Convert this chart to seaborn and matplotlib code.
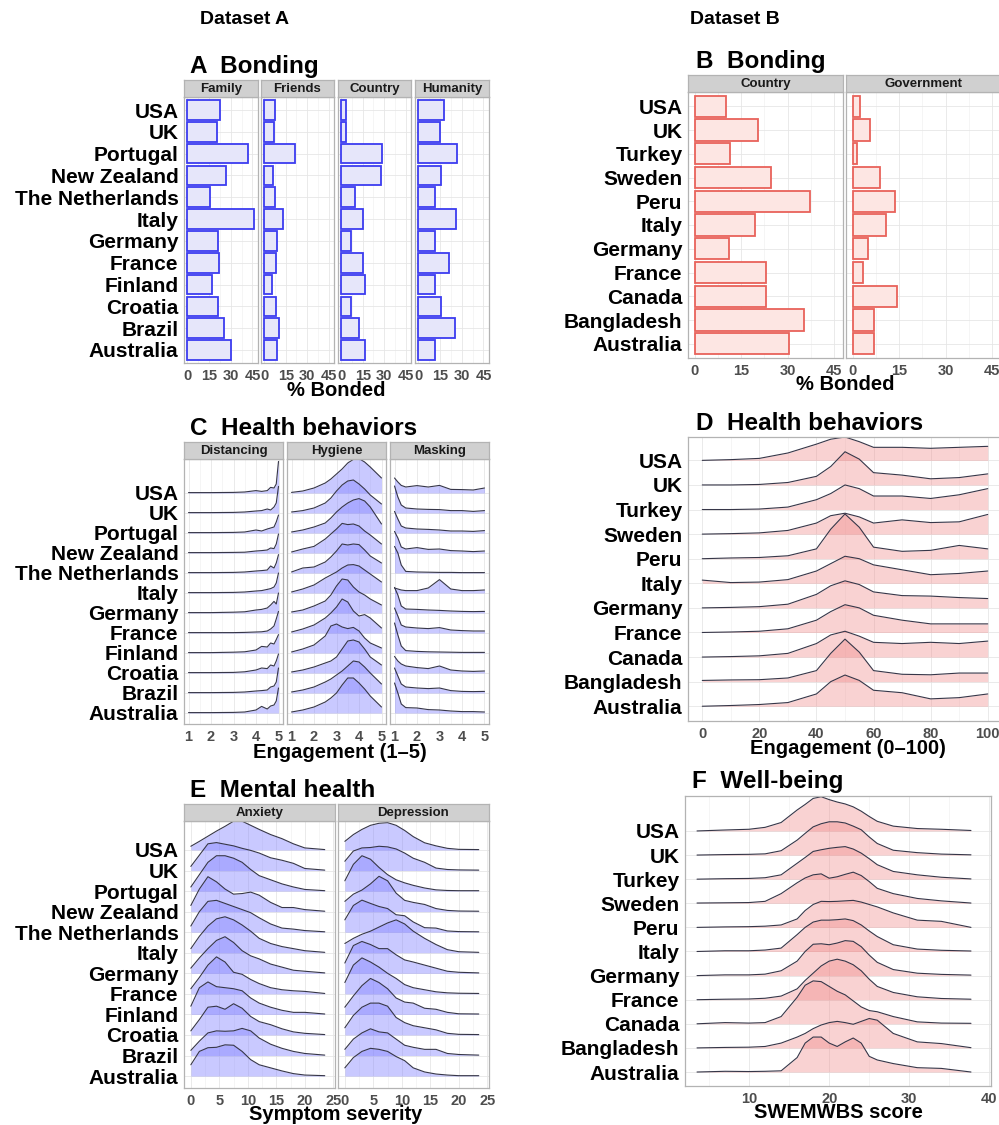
import numpy as np
import pandas as pd
import matplotlib
matplotlib.use('Agg')
import matplotlib.pyplot as plt
import seaborn as sns

W, H = 999, 1125

# ---- categories ----
countries_a = ['USA', 'UK', 'Portugal', 'New Zealand', 'The Netherlands', 'Italy',
               'Germany', 'France', 'Finland', 'Croatia', 'Brazil', 'Australia']
countries_b = ['USA', 'UK', 'Turkey', 'Sweden', 'Peru', 'Italy', 'Germany',
               'France', 'Canada', 'Bangladesh', 'Australia']

# ---- panel A: % bonded (dataset A) ----
bond_a_family = [22.5, 20.7, 42, 27, 15.6, 46, 21.4, 22, 17, 21, 25.5, 30]
bond_a_friends = [7.4, 6.9, 21.4, 6.2, 7.6, 13.3, 9, 8.3, 5.5, 8.3, 10.6, 9]
bond_a_country = [3.2, 3.4, 28.5, 27.8, 9.9, 15, 7.1, 15.2, 16.6, 6.9, 12.6, 16.6]
bond_a_humanity = [17.9, 15.2, 26.7, 15.9, 11.7, 25.7, 11.5, 21.4, 11.5, 15.4, 25, 11.5]

# ---- panel B: % bonded (dataset B) ----
bond_b_country = [10.1, 20.3, 11.3, 24.6, 37.1, 19.6, 10.9, 23, 22.9, 35.2, 30.4]
bond_b_government = [2.3, 5.4, 1.2, 8.7, 13.5, 10.8, 5, 3.2, 14.2, 6.9, 6.8]

# ---- panel C: ridge heights (row units), rows USA -> Australia ----
dist_x = [1, 2, 3, 3.5, 4, 4.25, 4.5, 4.65, 4.8, 4.9, 5.0]
distancing = [
    [0.02, 0.02, 0.03, 0.05, 0.12, 0.08, 0.12, 0.28, 0.25, 0.45, 1.58],
    [0.02, 0.02, 0.03, 0.05, 0.10, 0.12, 0.20, 0.15, 0.30, 0.50, 1.33],
    [0.02, 0.02, 0.03, 0.05, 0.15, 0.10, 0.20, 0.25, 0.30, 0.55, 0.90],
    [0.02, 0.02, 0.03, 0.04, 0.10, 0.12, 0.15, 0.25, 0.22, 0.45, 0.95],
    [0.02, 0.02, 0.03, 0.05, 0.10, 0.12, 0.15, 0.35, 0.25, 0.50, 0.92],
    [0.02, 0.02, 0.03, 0.05, 0.10, 0.12, 0.18, 0.22, 0.30, 0.50, 1.00],
    [0.02, 0.02, 0.04, 0.06, 0.15, 0.18, 0.25, 0.40, 0.58, 0.45, 1.00],
    [0.02, 0.02, 0.02, 0.03, 0.05, 0.06, 0.10, 0.20, 0.35, 0.70, 1.08],
    [0.02, 0.02, 0.04, 0.06, 0.15, 0.33, 0.30, 0.50, 0.45, 0.67, 0.92],
    [0.02, 0.02, 0.03, 0.06, 0.15, 0.25, 0.22, 0.40, 0.35, 0.60, 0.95],
    [0.02, 0.02, 0.03, 0.05, 0.10, 0.12, 0.15, 0.30, 0.35, 0.55, 1.25],
    [0.02, 0.02, 0.03, 0.05, 0.15, 0.33, 0.20, 0.35, 0.40, 0.60, 1.25],
]
hyg_x = [1, 1.5, 2, 2.5, 2.75, 3, 3.25, 3.5, 3.75, 4, 4.25, 4.5, 5]
hygiene = [
    [0.03, 0.10, 0.25, 0.50, 0.70, 0.95, 1.20, 1.50, 1.68, 1.72, 1.55, 1.30, 0.75],
    [0.05, 0.12, 0.25, 0.50, 0.75, 1.10, 1.40, 1.60, 1.65, 1.45, 1.20, 0.90, 0.45],
    [0.05, 0.15, 0.30, 0.50, 0.75, 1.05, 1.30, 1.50, 1.65, 1.72, 1.60, 1.30, 0.45],
    [0.05, 0.20, 0.33, 0.70, 0.95, 1.20, 1.48, 1.42, 1.45, 1.35, 1.10, 0.90, 0.45],
    [0.05, 0.25, 0.30, 0.55, 0.80, 1.10, 1.45, 1.40, 1.45, 1.42, 1.15, 0.85, 0.50],
    [0.05, 0.20, 0.40, 0.75, 0.90, 1.05, 1.25, 1.40, 1.42, 1.35, 1.15, 0.95, 0.55],
    [0.05, 0.15, 0.35, 0.60, 0.90, 1.35, 1.70, 1.65, 1.30, 1.05, 0.90, 0.70, 0.40],
    [0.05, 0.20, 0.40, 0.75, 1.00, 1.30, 1.70, 1.55, 1.10, 0.85, 0.92, 0.75, 0.25],
    [0.05, 0.20, 0.40, 0.85, 1.35, 1.45, 1.30, 1.22, 1.28, 1.10, 0.75, 0.50, 0.25],
    [0.05, 0.15, 0.30, 0.50, 0.60, 0.80, 1.20, 1.60, 1.65, 1.55, 1.20, 0.80, 0.40],
    [0.05, 0.15, 0.30, 0.55, 0.70, 0.90, 1.10, 1.35, 1.60, 1.55, 1.30, 1.00, 0.45],
    [0.05, 0.15, 0.30, 0.55, 0.75, 1.00, 1.40, 1.75, 1.75, 1.50, 1.20, 0.85, 0.30],
]
mask_x = [1, 1.15, 1.3, 1.5, 2, 2.5, 3, 3.5, 4, 4.5, 5]
masking = [
    [0.75, 0.55, 0.38, 0.30, 0.37, 0.30, 0.38, 0.18, 0.17, 0.15, 0.25],
    [1.35, 0.80, 0.40, 0.25, 0.20, 0.18, 0.17, 0.12, 0.12, 0.08, 0.12],
    [1.08, 0.70, 0.35, 0.25, 0.20, 0.18, 0.15, 0.10, 0.10, 0.08, 0.12],
    [1.08, 0.75, 0.30, 0.20, 0.27, 0.18, 0.20, 0.12, 0.10, 0.07, 0.10],
    [1.33, 1.00, 0.40, 0.08, 0.05, 0.04, 0.03, 0.03, 0.02, 0.02, 0.02],
    [0.25, 0.20, 0.15, 0.12, 0.12, 0.25, 0.67, 0.20, 0.12, 0.12, 0.15],
    [1.28, 0.90, 0.35, 0.20, 0.18, 0.15, 0.13, 0.10, 0.08, 0.07, 0.08],
    [1.25, 0.85, 0.40, 0.30, 0.25, 0.22, 0.27, 0.15, 0.12, 0.10, 0.10],
    [1.50, 0.90, 0.35, 0.12, 0.08, 0.06, 0.05, 0.04, 0.03, 0.03, 0.03],
    [0.83, 0.60, 0.45, 0.35, 0.27, 0.22, 0.35, 0.15, 0.10, 0.08, 0.10],
    [1.25, 0.85, 0.45, 0.30, 0.25, 0.22, 0.25, 0.12, 0.08, 0.07, 0.08],
    [1.50, 1.00, 0.45, 0.27, 0.25, 0.17, 0.15, 0.10, 0.07, 0.07, 0.05],
]

# ---- panel D: engagement 0-100, rows USA -> Australia ----
eng_x = [0, 10, 20, 30, 40, 45, 50, 55, 60, 70, 80, 90, 100]
engagement_b = [
    [0.00, 0.03, 0.08, 0.30, 0.66, 0.86, 0.95, 0.76, 0.53, 0.53, 0.49, 0.53, 0.57],
    [0.00, 0.00, 0.02, 0.10, 0.35, 0.75, 1.35, 1.05, 0.50, 0.40, 0.25, 0.30, 0.45],
    [0.00, 0.00, 0.02, 0.10, 0.40, 0.65, 1.00, 0.85, 0.55, 0.55, 0.45, 0.60, 0.85],
    [0.00, 0.02, 0.05, 0.15, 0.45, 0.75, 0.85, 0.70, 0.45, 0.58, 0.47, 0.50, 0.80],
    [0.00, 0.03, 0.05, 0.12, 0.40, 1.20, 1.82, 1.28, 0.47, 0.30, 0.34, 0.54, 0.40],
    [0.13, 0.03, 0.05, 0.15, 0.50, 0.80, 1.10, 1.00, 0.75, 0.55, 0.35, 0.40, 0.50],
    [0.00, 0.02, 0.05, 0.15, 0.55, 0.90, 1.10, 0.95, 0.65, 0.50, 0.48, 0.42, 0.38],
    [0.00, 0.02, 0.05, 0.15, 0.50, 0.85, 1.13, 1.00, 0.70, 0.50, 0.35, 0.35, 0.35],
    [0.00, 0.02, 0.05, 0.15, 0.55, 0.90, 1.05, 0.85, 0.60, 0.55, 0.60, 0.55, 0.65],
    [0.05, 0.07, 0.08, 0.15, 0.45, 1.15, 1.73, 1.20, 0.45, 0.30, 0.28, 0.35, 0.35],
    [0.00, 0.03, 0.07, 0.15, 0.50, 1.00, 1.27, 1.05, 0.65, 0.55, 0.30, 0.35, 0.50],
]

# ---- panel E: symptom severity, rows USA -> Australia ----
sev_x = [0, 1.5, 3, 4.5, 6, 7.5, 9, 10.5, 12, 14, 16, 18, 20, 23.5]
anxiety = [
    [0.18, 0.42, 0.67, 0.92, 1.15, 1.40, 1.40, 1.20, 1.00, 0.75, 0.55, 0.30, 0.10, 0.02],
    [0.20, 0.75, 1.30, 1.36, 1.28, 1.20, 1.08, 0.98, 0.85, 0.62, 0.50, 0.35, 0.10, 0.02],
    [0.20, 0.80, 1.40, 1.72, 1.72, 1.60, 1.40, 1.05, 0.75, 0.55, 0.35, 0.20, 0.08, 0.02],
    [0.30, 1.10, 1.70, 1.45, 1.10, 0.85, 0.88, 0.95, 0.80, 0.45, 0.20, 0.20, 0.10, 0.02],
    [0.30, 1.00, 1.50, 1.55, 1.40, 1.25, 1.10, 0.95, 0.70, 0.40, 0.20, 0.15, 0.08, 0.02],
    [0.20, 0.80, 1.30, 1.65, 1.75, 1.60, 1.35, 1.05, 0.70, 0.45, 0.30, 0.20, 0.10, 0.02],
    [0.25, 0.75, 1.20, 1.60, 1.78, 1.50, 1.10, 0.85, 0.70, 0.45, 0.30, 0.15, 0.10, 0.02],
    [0.25, 0.80, 1.40, 1.80, 1.55, 1.05, 0.95, 0.70, 0.50, 0.30, 0.20, 0.15, 0.12, 0.02],
    [0.40, 1.30, 1.58, 1.35, 1.30, 1.25, 1.15, 0.80, 0.55, 0.35, 0.20, 0.10, 0.10, 0.02],
    [0.20, 0.75, 1.35, 1.40, 1.25, 1.52, 1.30, 0.90, 0.65, 0.50, 0.30, 0.15, 0.08, 0.02],
    [0.25, 0.70, 1.10, 1.20, 1.18, 1.20, 1.32, 1.20, 0.85, 0.55, 0.35, 0.20, 0.10, 0.02],
    [0.55, 1.20, 1.38, 1.40, 1.52, 1.50, 1.20, 0.80, 0.55, 0.40, 0.25, 0.12, 0.05, 0.02],
]
depression = [
    [0.42, 0.75, 1.00, 1.20, 1.30, 1.33, 1.20, 0.95, 0.65, 0.35, 0.20, 0.08, 0.03, 0.02],
    [0.45, 0.95, 1.10, 1.12, 1.18, 1.15, 1.05, 0.85, 0.60, 0.40, 0.12, 0.05, 0.03, 0.02],
    [0.50, 1.30, 1.72, 1.55, 1.15, 0.80, 0.55, 0.40, 0.28, 0.15, 0.06, 0.03, 0.02, 0.02],
    [0.50, 0.85, 1.05, 1.35, 1.72, 1.50, 0.90, 0.55, 0.45, 0.35, 0.15, 0.06, 0.03, 0.02],
    [0.60, 1.30, 1.56, 1.40, 1.25, 1.15, 0.85, 0.80, 0.50, 0.22, 0.20, 0.06, 0.03, 0.02],
    [0.45, 0.70, 0.90, 1.05, 1.25, 1.45, 1.60, 1.40, 1.05, 0.70, 0.40, 0.15, 0.05, 0.02],
    [0.50, 1.35, 1.55, 1.40, 1.20, 1.20, 0.90, 0.65, 0.55, 0.40, 0.25, 0.10, 0.05, 0.02],
    [0.55, 1.40, 1.75, 1.55, 1.30, 1.00, 0.75, 0.45, 0.30, 0.20, 0.10, 0.05, 0.03, 0.02],
    [0.35, 0.90, 1.40, 1.75, 1.55, 1.25, 0.80, 0.60, 0.55, 0.30, 0.25, 0.10, 0.03, 0.02],
    [0.35, 0.95, 1.35, 1.55, 1.55, 1.40, 0.85, 0.60, 0.45, 0.35, 0.25, 0.08, 0.03, 0.02],
    [0.30, 0.80, 1.10, 1.30, 1.15, 1.10, 0.80, 0.50, 0.40, 0.30, 0.30, 0.10, 0.05, 0.02],
    [0.40, 0.90, 1.20, 1.35, 1.30, 1.20, 0.95, 0.75, 0.40, 0.20, 0.10, 0.05, 0.02, 0.02],
]

# ---- panel F: SWEMWBS, rows USA -> Australia ----
wb_x = [3.5, 7, 10, 12, 14, 16, 17, 18, 19, 20, 21, 22, 23, 24, 25, 26, 28, 31, 34, 37.7]
wellbeing = [
    [0.00, 0.04, 0.07, 0.15, 0.35, 0.87, 1.10, 1.35, 1.42, 1.30, 1.20, 1.12, 1.00, 0.82, 0.60, 0.40, 0.20, 0.10, 0.07, 0.02],
    [0.00, 0.02, 0.03, 0.05, 0.18, 0.62, 0.90, 1.17, 1.30, 1.38, 1.38, 1.33, 1.20, 1.05, 0.75, 0.48, 0.20, 0.10, 0.04, 0.01],
    [0.00, 0.02, 0.03, 0.06, 0.18, 0.66, 0.90, 1.15, 1.22, 1.28, 1.32, 1.35, 1.25, 1.08, 0.85, 0.60, 0.32, 0.18, 0.08, 0.01],
    [0.01, 0.02, 0.03, 0.08, 0.40, 0.85, 1.05, 1.18, 1.22, 1.04, 1.10, 1.20, 1.29, 1.15, 0.90, 0.62, 0.40, 0.20, 0.10, 0.01],
    [0.00, 0.02, 0.03, 0.05, 0.10, 0.35, 0.70, 0.95, 1.08, 1.07, 1.08, 1.10, 1.12, 1.05, 0.95, 0.85, 0.60, 0.30, 0.25, 0.00],
    [0.00, 0.03, 0.03, 0.06, 0.14, 0.70, 1.00, 1.22, 1.30, 1.30, 1.32, 1.35, 1.28, 1.10, 0.85, 0.62, 0.28, 0.10, 0.05, 0.02],
    [0.00, 0.03, 0.03, 0.06, 0.20, 0.60, 1.00, 1.30, 1.32, 1.28, 1.35, 1.45, 1.42, 1.20, 0.85, 0.55, 0.25, 0.10, 0.05, 0.02],
    [0.00, 0.02, 0.03, 0.06, 0.15, 0.45, 0.80, 1.10, 1.40, 1.60, 1.68, 1.60, 1.45, 1.20, 0.85, 0.55, 0.30, 0.12, 0.05, 0.02],
    [0.00, 0.05, 0.03, 0.05, 0.30, 1.10, 1.60, 1.78, 1.75, 1.55, 1.35, 1.20, 0.95, 0.70, 0.55, 0.50, 0.30, 0.08, 0.03, 0.02],
    [0.00, 0.02, 0.03, 0.06, 0.20, 0.45, 0.60, 0.80, 0.95, 1.05, 1.10, 1.05, 0.98, 1.10, 1.22, 1.15, 0.60, 0.25, 0.18, 0.01],
    [0.00, 0.03, 0.02, 0.03, 0.05, 0.60, 1.20, 1.45, 1.45, 1.20, 1.06, 1.25, 1.41, 1.20, 0.65, 0.50, 0.35, 0.18, 0.15, 0.00],
]

# ---- styling ----
BLUE_FILL, BLUE_EDGE = '#e6e6fa', '#3c3cf0'
RED_FILL, RED_EDGE = '#fde6e3', '#e8625a'
RIDGE_BLUE, RIDGE_RED = '#8080ff', '#f08080'
LINE = '#363648'
GRID, GRID_MINOR, BORDER = '#e6e6e6', '#f2f2f2', '#b3b3b3'

sns.set_theme(style='white')
plt.rcParams['font.family'] = ['Liberation Sans', 'DejaVu Sans']
plt.rcParams['font.weight'] = 'bold'
plt.rcParams['axes.labelweight'] = 'bold'
plt.rcParams['text.color'] = 'black'

fig = plt.figure(figsize=(W / 100, H / 100), dpi=100)


def rect(x0, x1, y0, y1):
    return [x0 / W, 1 - y1 / H, (x1 - x0) / W, (y1 - y0) / H]


def style(ax, xlim, xticks, xminor, show_y):
    ax.set_facecolor('white')
    ax.set_xlim(xlim)
    ax.set_xticks(xticks)
    ax.set_xticks(xminor, minor=True)
    ax.grid(True, which='major', color=GRID, lw=0.6)
    ax.grid(True, which='minor', axis='x', color=GRID_MINOR, lw=0.5)
    ax.set_axisbelow(True)
    for s in ax.spines.values():
        s.set_visible(True)
        s.set_color(BORDER)
        s.set_linewidth(0.9)
    ax.tick_params(axis='x', which='major', length=2.5, width=0.6, color=BORDER,
                   labelsize=10.5, labelcolor='#4d4d4d', pad=1.5)
    ax.tick_params(axis='y', which='major', length=2.5 if show_y else 0, width=0.6,
                   color=BORDER, labelsize=15, labelcolor='black', pad=1.5,
                   labelleft=show_y)
    ax.tick_params(which='minor', length=0)
    ax.set_xlabel('')
    ax.set_ylabel('')


def strip(x0, x1, y0, y1, label):
    sax = fig.add_axes(rect(x0, x1, y0, y1))
    sax.set_facecolor('#d0d0d0')
    sax.set_xticks([])
    sax.set_yticks([])
    for s in sax.spines.values():
        s.set_color(BORDER)
        s.set_linewidth(0.9)
    sax.text(0.5, 0.48, label, ha='center', va='center', fontsize=9.5,
             color='#1a1a1a', transform=sax.transAxes)


def bar_facet(xs, ys, countries, values, label, fill, edge, show_y, strip_y):
    ax = fig.add_axes(rect(xs[0], xs[1], ys[0], ys[1]))
    df = pd.DataFrame({'country': countries, 'pct': values})
    sns.barplot(data=df, x='pct', y='country', order=countries, orient='h', ax=ax,
                color=fill, saturation=1, edgecolor=edge, linewidth=1.3, width=0.9)
    style(ax, (-2.3, 48.8), [0, 15, 30, 45], [7.5, 22.5, 37.5], show_y)
    ax.set_ylim(len(countries) - 0.4, -0.6)
    strip(xs[0], xs[1], strip_y, ys[0], label)
    return ax


def ridge_facet(xs_px, ys_px, xs, rows, countries, fill, alpha, xlim, ylim,
                xticks, xminor, show_y):
    ax = fig.add_axes(rect(xs_px[0], xs_px[1], ys_px[0], ys_px[1]))
    n = len(rows)
    for i, hts in enumerate(rows):
        base = n - 1 - i
        top = base + np.asarray(hts)
        ax.fill_between(xs, base, top, color=fill, alpha=alpha, lw=0, zorder=2 + i)
        ax.plot(xs, top, color=LINE, lw=0.8, zorder=2 + i)
    style(ax, xlim, xticks, xminor, show_y)
    ax.set_ylim(ylim)
    ax.set_yticks(range(n))
    ax.set_yticklabels(countries[::-1])
    return ax


def title(x, y, text):
    fig.text(x / W, 1 - y / H, text, fontsize=17.5, ha='left', va='baseline')


def xlabel(x, y, text):
    fig.text(x / W, 1 - y / H, text, fontsize=14.5, ha='center', va='center')


# column headers
fig.text(245 / W, 1 - 19 / H, 'Dataset A', fontsize=14, ha='center', va='center')
fig.text(735 / W, 1 - 19 / H, 'Dataset B', fontsize=14, ha='center', va='center')

# ---- A ----
a_cols = [(184, 258), (261, 334), (338, 411), (415, 489)]
a_vals = [bond_a_family, bond_a_friends, bond_a_country, bond_a_humanity]
for j, (g, vals) in enumerate(zip(['Family', 'Friends', 'Country', 'Humanity'], a_vals)):
    bar_facet(a_cols[j], (97, 363), countries_a, vals, g, BLUE_FILL, BLUE_EDGE, j == 0, 80)
title(190, 73, 'A  Bonding')
xlabel(336, 390, '% Bonded')

# ---- B ----
b_cols = [(688, 843), (846, 1001)]
for j, (g, vals) in enumerate(zip(['Country', 'Government'], [bond_b_country, bond_b_government])):
    ax = bar_facet(b_cols[j], (92, 358), countries_b, vals, g, RED_FILL, RED_EDGE, j == 0, 75)
    ax.set_xlim(-2.2, 47.9)
title(696, 68, 'B  Bonding')
xlabel(845, 385, '% Bonded')

# ---- C ----
c_cols = [(184, 283), (287, 386), (390, 489)]
c_data = [(dist_x, distancing, 'Distancing'), (hyg_x, hygiene, 'Hygiene'), (mask_x, masking, 'Masking')]
for j, (xs, rows, g) in enumerate(c_data):
    ridge_facet(c_cols[j], (459, 724), xs, rows, countries_a, RIDGE_BLUE, 0.42,
                (0.8, 5.2), (-0.55, 12.7), [1, 2, 3, 4, 5], [1.5, 2.5, 3.5, 4.5], j == 0)
    strip(c_cols[j][0], c_cols[j][1], 442, 459, g)
title(190, 435, 'C  Health behaviors')
xlabel(340, 753, 'Engagement (1\u20135)')

# ---- D ----
ridge_facet((688, 1002), (437, 721), eng_x, engagement_b, countries_b, RIDGE_RED, 0.35,
            (-5, 105), (-0.6, 10.95), [0, 20, 40, 60, 80, 100], [10, 30, 50, 70, 90], True)
title(696, 430, 'D  Health behaviors')
xlabel(848, 748, 'Engagement (0\u2013100)')

# ---- E ----
e_cols = [(184, 335), (338, 489)]
for j, (rows, g) in enumerate([(anxiety, 'Anxiety'), (depression, 'Depression')]):
    ridge_facet(e_cols[j], (821, 1088), sev_x, rows, countries_a, RIDGE_BLUE, 0.42,
                (-1.2, 25.3), (-0.58, 12.41), [0, 5, 10, 15, 20, 25],
                [2.5, 7.5, 12.5, 17.5, 22.5], j == 0)
    strip(e_cols[j][0], e_cols[j][1], 804, 821, g)
title(190, 797, 'E  Mental health')
xlabel(336, 1115, 'Symptom severity')

# ---- F ----
ridge_facet((685, 991), (796, 1086), wb_x, wellbeing, countries_b, RIDGE_RED, 0.35,
            (2.0, 40.2), (-0.58, 11.45), [10, 20, 30, 40], [5, 15, 25, 35], True)
title(692, 788, 'F  Well-being')
xlabel(838, 1113, 'SWEMWBS score')

fig.savefig('out.png', dpi=100)
